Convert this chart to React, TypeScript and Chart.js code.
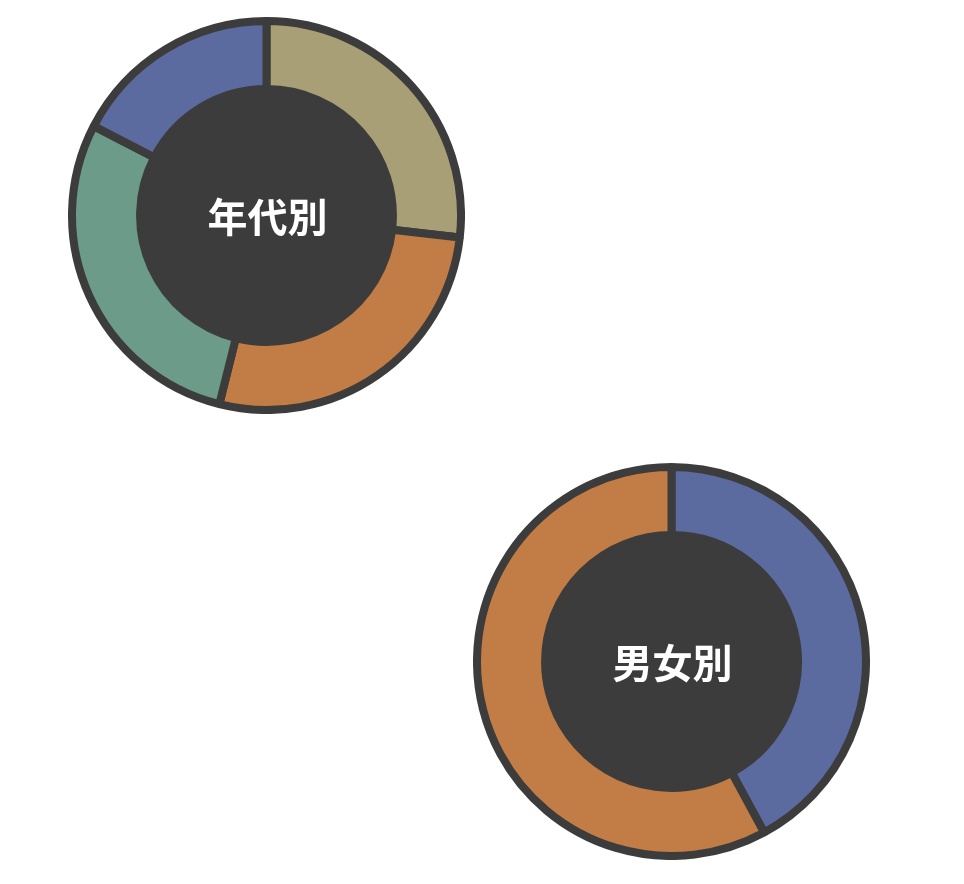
import { useEffect, useRef } from 'react'
import { Chart, registerables } from 'chart.js'
import type { Plugin } from 'chart.js'

Chart.register(...registerables)

const ageLabels = ['20代', '30代', '40代', '50代以上']
const ageValues = [26.8, 27.1, 28.7, 17.4]
const ageColors = ['#a89f76', '#c27d46', '#6c9b8a', '#5b6a9f']

const genderLabels = ['男性', '女性']
const genderValues = [42.1, 57.9]
const genderColors = ['#5b6a9f', '#c27d46']

const DARK = '#3c3c3c'

// fills the hole with the border colour and writes the title in it
const centerPlugin = (title: string): Plugin<'doughnut'> => ({
  id: 'centerTitle',
  afterDatasetsDraw(chart) {
    const arc = chart.getDatasetMeta(0).data[0] as any
    if (!arc) return
    const { x, y, innerRadius } = arc.getProps(['x', 'y', 'innerRadius'], true)
    const ctx = chart.ctx
    ctx.save()
    ctx.beginPath()
    ctx.arc(x, y, innerRadius, 0, Math.PI * 2)
    ctx.fillStyle = DARK
    ctx.fill()
    ctx.fillStyle = '#ffffff'
    ctx.font = 'bold 40px "Noto Sans CJK JP", "Noto Sans", sans-serif'
    ctx.textAlign = 'center'
    ctx.textBaseline = 'middle'
    ctx.fillText(title, x + 1, y + 1)
    ctx.restore()
  },
})

function Donut({ title, labels, values, colors }: { title: string; labels: string[]; values: number[]; colors: string[] }) {
  const canvasRef = useRef<HTMLCanvasElement>(null)

  useEffect(() => {
    if (!canvasRef.current) return
    const chart = new Chart(canvasRef.current, {
      type: 'doughnut',
      data: {
        labels,
        datasets: [
          {
            data: values,
            backgroundColor: colors,
            borderColor: DARK,
            borderWidth: 8,
            hoverBorderWidth: 8,
            hoverOffset: 0,
          },
        ],
      },
      options: {
        responsive: true,
        maintainAspectRatio: false,
        animation: false,
        cutout: '65%',
        layout: { padding: 0 },
        plugins: {
          legend: { display: false },
          tooltip: { enabled: false },
        },
      },
      plugins: [centerPlugin(title)],
    })
    return () => chart.destroy()
  }, [title, labels, values, colors])

  return <canvas ref={canvasRef} />
}

export default function App() {
  return (
    <div>
      <div style={{ position: 'absolute', left: 68, top: 17, width: 397, height: 397 }}>
        <Donut title="年代別" labels={ageLabels} values={ageValues} colors={ageColors} />
      </div>
      <div style={{ position: 'absolute', left: 473, top: 463, width: 397, height: 397 }}>
        <Donut title="男女別" labels={genderLabels} values={genderValues} colors={genderColors} />
      </div>
    </div>
  )
}
